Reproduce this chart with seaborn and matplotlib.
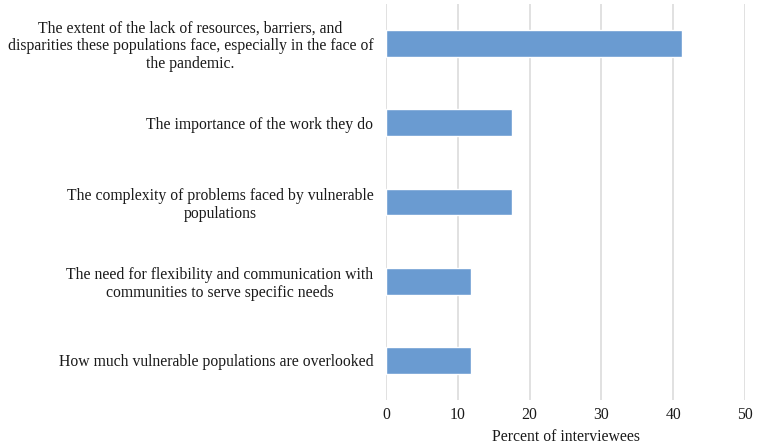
import matplotlib
matplotlib.use("Agg")
import matplotlib.pyplot as plt
import seaborn as sns
import pandas as pd

categories = [
    "The extent of the lack of resources, barriers, and\ndisparities these populations face, especially in the face of\nthe pandemic.",
    "The importance of the work they do",
    "The complexity of problems faced by vulnerable\npopulations",
    "The need for flexibility and communication with\ncommunities to serve specific needs",
    "How much vulnerable populations are overlooked",
]
percent = [41.2, 17.6, 17.6, 11.8, 11.8]
xticks = [0, 10, 20, 30, 40, 50]

sns.set_theme(style="white")
plt.rcParams['font.family'] = ['Liberation Serif', 'DejaVu Serif']

df = pd.DataFrame({"cat": categories, "pct": percent})

FS = 11.3
fig = plt.figure(figsize=(7.67, 4.44), dpi=100)
ax = fig.add_axes([386/767, 1-400/444, (745-386)/767, (400-4)/444])
sns.barplot(data=df, x="pct", y="cat", color="#6A9BD1", saturation=1, width=0.34, ax=ax, zorder=3)
ax.set_xlim(0, 50)
ax.set_ylim(4.5, -0.5)
ax.set_xticks(xticks)
ax.set_xticklabels([str(t) for t in xticks], fontsize=FS)
ax.xaxis.grid(True, color="#D9D9D9", linewidth=1.1, zorder=0)
ax.set_axisbelow(True)
for s in ax.spines.values():
    s.set_visible(False)
ax.tick_params(axis="x", length=0, pad=5, colors="#1a1a1a")
ax.tick_params(axis="y", length=0, pad=9, colors="#1a1a1a")
ax.set_ylabel("")
ax.set_xlabel("Percent of interviewees", fontsize=FS, labelpad=4, color="#1a1a1a")
for lbl in ax.get_yticklabels():
    lbl.set_multialignment("center")
    lbl.set_fontsize(FS)
    lbl.set_linespacing(1.15)

fig.savefig("out.png", dpi=100)
